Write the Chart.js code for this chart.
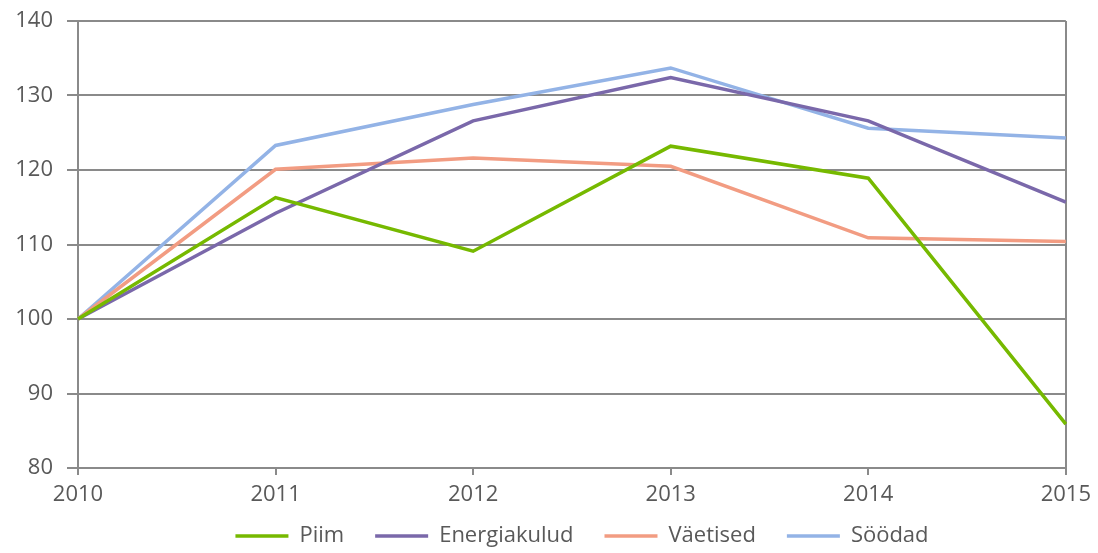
<!DOCTYPE html>
<html>
<head>
<meta charset="utf-8">
<script src="https://cdn.jsdelivr.net/npm/chart.js@4"></script>
<style>
  html, body { margin: 0; padding: 0; background: #fff; }
  #wrap { width: 1098px; height: 553px; position: relative; }
</style>
</head>
<body>
<div id="wrap"><canvas id="myLineChart"></canvas></div>
<script>
  // data
  const years = ["2010", "2011", "2012", "2013", "2014", "2015"];
  const piim = [100, 116.3, 109.1, 123.2, 118.9, 85.9];
  const energiakulud = [100, 114.2, 126.6, 132.4, 126.6, 115.7];
  const vaetised = [100, 120.1, 121.6, 120.5, 110.9, 110.4];
  const soodad = [100, 123.3, 128.8, 133.7, 125.6, 124.3];
  const yTicks = [80, 90, 100, 110, 120, 130, 140];

  const gridGray = "#8a8a8a";
  const textGray = "#595959";

  function series(label, data, color) {
    return {
      label: label,
      data: data,
      borderColor: color,
      backgroundColor: color,
      borderWidth: 3.5,
      pointRadius: 0,
      pointStyle: "line",
      tension: 0,
    };
  }

  // keep the legend strip short, the label padding is only wanted sideways
  const legendHeight = {
    id: "legendHeight",
    beforeInit(chart) {
      const fit = chart.legend.fit;
      chart.legend.fit = function () {
        fit.bind(chart.legend)();
        this.height = 43;
      };
    },
    afterLayout(chart) {
      // pull the legend row up and a bit to the right
      chart.legend.top -= 16;
      chart.legend.height += 16;
      chart.legend.left += 48;
      chart.legend.right += 48;
    },
  };

  const ctx = document.getElementById("myLineChart").getContext("2d");

  const myLineChart = new Chart(ctx, {
    type: "line",
    data: {
      labels: years,
      datasets: [
        series("Piim", piim, "#76b900"),
        series("Energiakulud", energiakulud, "#7a68aa"),
        series("Väetised", vaetised, "#f29c82"),
        series("Söödad", soodad, "#93b3e6"),
      ],
    },
    plugins: [legendHeight],
    options: {
      responsive: true,
      maintainAspectRatio: false,
      animation: false,
      layout: {
        padding: { left: 0, right: 30, top: 21, bottom: 0 },
      },
      scales: {
        x: {
          offset: false,
          afterFit: (axis) => {
            axis.height = 42;
          },
          grid: {
            // only the right border and the tick marks
            color: (c) => (c.index === years.length - 1 ? gridGray : "transparent"),
            tickColor: gridGray,
            lineWidth: 2,
            tickLength: 7,
          },
          border: { color: gridGray, width: 2 },
          ticks: {
            color: textGray,
            font: { family: "Open Sans", size: 22 },
            padding: 7,
            maxRotation: 0,
          },
        },
        y: {
          min: 80,
          max: 140,
          afterBuildTicks: (axis) => {
            axis.ticks = yTicks.map((v) => ({ value: v }));
          },
          afterFit: (axis) => {
            axis.width = 78;
            axis.paddingTop = 0;
          },
          grid: {
            color: gridGray,
            lineWidth: 2,
            tickLength: 11,
          },
          border: { color: gridGray, width: 2 },
          ticks: {
            color: textGray,
            font: { family: "Open Sans", size: 22 },
            padding: 14,
          },
        },
      },
      plugins: {
        legend: {
          position: "bottom",
          labels: {
            color: textGray,
            font: { family: "Open Sans", size: 22 },
            usePointStyle: true,
            pointStyleWidth: 53,
            boxHeight: 22,
            padding: 31,
          },
        },
        tooltip: { enabled: false },
      },
    },
  });
</script>
</body>
</html>
